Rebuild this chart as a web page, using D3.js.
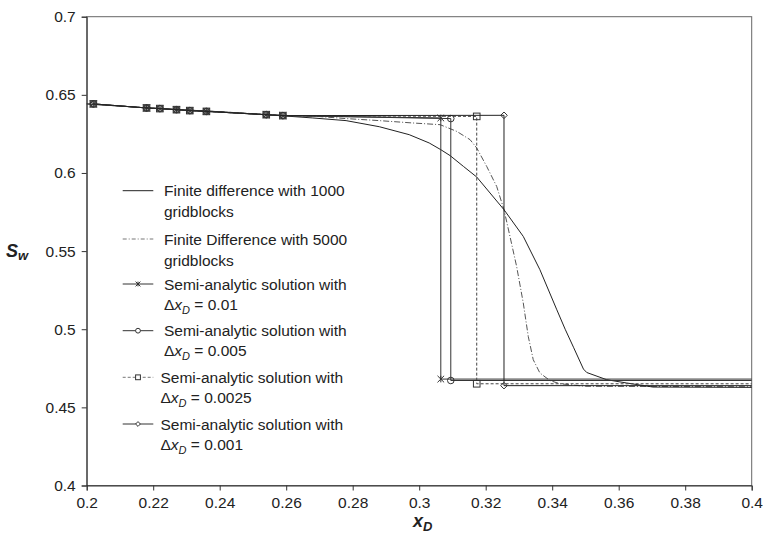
<!DOCTYPE html>
<html>
<head>
<meta charset="utf-8">
<script src="https://cdn.jsdelivr.net/npm/d3@7"></script>
<style>
  html, body { margin: 0; padding: 0; background: #fff; }
  svg { display: block; }
  text { font-family: "Liberation Sans", Arial, sans-serif; fill: #222; }
</style>
</head>
<body>
<svg id="chart" width="763" height="543"></svg>
<script>
// ---- data ----
const xTicks = [0.2, 0.22, 0.24, 0.26, 0.28, 0.3, 0.32, 0.34, 0.36, 0.38, 0.4];
const yTicks = [0.4, 0.45, 0.5, 0.55, 0.6, 0.65, 0.7];

// shared early points of the semi-analytic solutions
const semiX = [0.202, 0.218, 0.222, 0.227, 0.231, 0.236, 0.254, 0.259];
const semiY = [0.6442, 0.6416, 0.6412, 0.6405, 0.6399, 0.6394, 0.6373, 0.6367];

// shock front for each Δx: [x, upper Sw, lower Sw]
const shock001   = [0.3065, 0.6352, 0.4681];
const shock0005  = [0.3095, 0.6348, 0.4672];
const shock00025 = [0.3173, 0.6362, 0.4651];
const shock0001  = [0.3255, 0.6369, 0.4639];

const fd1000X = [0.2, 0.22, 0.24, 0.26, 0.268, 0.278, 0.288, 0.297, 0.303, 0.3065, 0.3093, 0.3133, 0.3173, 0.3213, 0.3255, 0.3313, 0.3363, 0.3414, 0.3439, 0.3464, 0.3494, 0.3504, 0.3564, 0.3624, 0.3703, 0.4];
const fd1000Y = [0.6442, 0.6414, 0.6392, 0.6364, 0.6352, 0.6335, 0.6296, 0.6245, 0.6192, 0.6149, 0.6111, 0.6042, 0.5974, 0.5872, 0.5765, 0.5594, 0.5381, 0.5124, 0.5000, 0.4885, 0.4745, 0.4723, 0.4677, 0.4656, 0.4630, 0.4628];

const fd5000X = [0.2, 0.22, 0.24, 0.26, 0.268, 0.278, 0.288, 0.298, 0.3063, 0.3113, 0.3153, 0.3173, 0.3203, 0.3233, 0.3255, 0.3273, 0.3293, 0.3313, 0.3328, 0.3343, 0.3363, 0.3393, 0.3423, 0.35, 0.4];
const fd5000Y = [0.6442, 0.6414, 0.6392, 0.6367, 0.6364, 0.6348, 0.6335, 0.6320, 0.6309, 0.6266, 0.6213, 0.6160, 0.6042, 0.5914, 0.5765, 0.5594, 0.5402, 0.5168, 0.4954, 0.4805, 0.4720, 0.4672, 0.4651, 0.4635, 0.4632];

const legendLabels1 = ["Finite difference with 1000", "Finite Difference with 5000"];
const legendDx = ["0.01", "0.005", "0.0025", "0.001"];

// ---- layout ----
const svg = d3.select("#chart");
const pLeft = 86.7, pRight = 751.7, pTop = 16.7, pBottom = 485.5;
const x = d3.scaleLinear().domain([0.2, 0.4]).range([pLeft, pRight]);
const y = d3.scaleLinear().domain([0.4, 0.7]).range([pBottom, pTop]);

// frame
svg.append("rect").attr("x", pLeft).attr("y", pTop)
  .attr("width", pRight - pLeft).attr("height", pBottom - pTop)
  .attr("fill", "none").attr("stroke", "#666").attr("stroke-width", 1);

// axes
const xAxis = svg.append("g").attr("transform", `translate(0,${pBottom})`)
  .call(d3.axisBottom(x).tickValues(xTicks).tickSize(5).tickPadding(6)
        .tickFormat(d => String(+d.toFixed(2))));
const yAxis = svg.append("g").attr("transform", `translate(${pLeft},0)`)
  .call(d3.axisLeft(y).tickValues(yTicks).tickSize(5).tickPadding(6)
        .tickFormat(d => String(+d.toFixed(2))));
[xAxis, yAxis].forEach(g => {
  g.select(".domain").attr("stroke", "#333");
  g.selectAll(".tick line").attr("stroke", "#333");
  g.selectAll(".tick text").attr("font-size", 15.5)
    .attr("font-family", "'Liberation Sans', Arial, sans-serif").attr("fill", "#222");
});

// axis titles
svg.append("text").attr("x", 6).attr("y", 257)
  .attr("font-size", 18).attr("font-weight", "bold").attr("font-style", "italic")
  .call(t => {
    t.append("tspan").text("S");
    t.append("tspan").attr("font-size", 13).attr("dy", 3).text("w");
  });
svg.append("text").attr("x", 413).attr("y", 527)
  .attr("font-size", 18).attr("font-weight", "bold").attr("font-style", "italic")
  .call(t => {
    t.append("tspan").text("x");
    t.append("tspan").attr("font-size", 13).attr("dy", 4).text("D");
  });

// ---- series ----
const line = d3.line().x(d => x(d[0])).y(d => y(d[1]));
const zip = (xs, ys) => xs.map((v, i) => [v, ys[i]]);

const plot = svg.append("g");

function semiPoints(sh) {
  const pts = zip(semiX, semiY);
  pts.push([sh[0], sh[1]], [sh[0], sh[2]], [0.4, sh[2]]);
  return pts;
}

function marker(g, type, cx, cy, s, fill) {
  if (type === "asterisk") {
    g.append("path").attr("d",
      `M${cx - s},${cy - s}L${cx + s},${cy + s}M${cx - s},${cy + s}L${cx + s},${cy - s}M${cx},${cy - s}L${cx},${cy + s}`)
      .attr("stroke", "#333").attr("stroke-width", 1).attr("fill", "none");
  } else if (type === "circle") {
    g.append("circle").attr("cx", cx).attr("cy", cy).attr("r", s)
      .attr("stroke", "#333").attr("stroke-width", 1).attr("fill", fill);
  } else if (type === "square") {
    g.append("rect").attr("x", cx - s).attr("y", cy - s).attr("width", 2 * s).attr("height", 2 * s)
      .attr("stroke", "#333").attr("stroke-width", 1).attr("fill", fill);
  } else if (type === "diamond") {
    g.append("path").attr("d", `M${cx},${cy - s}L${cx + s},${cy}L${cx},${cy + s}L${cx - s},${cy}Z`)
      .attr("stroke", "#333").attr("stroke-width", 1).attr("fill", fill);
  }
}

const semiSeries = [
  { shock: shock001,   type: "asterisk", color: "#333", dash: null },
  { shock: shock0005,  type: "circle",   color: "#333", dash: null },
  { shock: shock00025, type: "square",   color: "#444", dash: "3,2" },
  { shock: shock0001,  type: "diamond",  color: "#222", dash: null }
];

// finite difference curves
plot.append("path").datum(zip(fd5000X, fd5000Y)).attr("d", line)
  .attr("fill", "none").attr("stroke", "#555").attr("stroke-width", 1)
  .attr("stroke-dasharray", "6,2,1,2");
plot.append("path").datum(zip(fd1000X, fd1000Y)).attr("d", line)
  .attr("fill", "none").attr("stroke", "#222").attr("stroke-width", 1);

semiSeries.forEach(s => {
  const pts = semiPoints(s.shock);
  plot.append("path").datum(pts).attr("d", line)
    .attr("fill", "none").attr("stroke", s.color).attr("stroke-width", 1)
    .attr("stroke-dasharray", s.dash);
  const mg = plot.append("g");
  pts.slice(0, pts.length - 1).forEach(p => marker(mg, s.type, x(p[0]), y(p[1]), 3.3, "none"));
});

// ---- legend ----
const lg = svg.append("g");
const lx1 = 122.7, lx2 = 153.3, tx = 164;
const fs = 15.5;

[[190.7, false], [239, true]].forEach((e, i) => {
  const yy = e[0];
  lg.append("line").attr("x1", lx1).attr("x2", lx2).attr("y1", yy).attr("y2", yy)
    .attr("stroke", e[1] ? "#777" : "#222").attr("stroke-width", 1)
    .attr("stroke-dasharray", e[1] ? "4,2,1,2" : null);
  lg.append("text").attr("x", tx).attr("y", yy + 5.5).attr("font-size", fs).text(legendLabels1[i]);
  lg.append("text").attr("x", tx).attr("y", yy + 26.5).attr("font-size", fs).text("gridblocks");
});

const semiLegendY = [284, 330.7, 377.3, 424];
semiSeries.forEach((s, i) => {
  const yy = semiLegendY[i];
  lg.append("line").attr("x1", lx1).attr("x2", lx2).attr("y1", yy).attr("y2", yy)
    .attr("stroke", s.dash ? "#777" : "#333").attr("stroke-width", 1)
    .attr("stroke-dasharray", s.dash);
  marker(lg.append("g"), s.type, (lx1 + lx2) / 2, yy, 2.4, "#fff");
  const tx2 = i >= 2 ? 160.5 : tx;
  lg.append("text").attr("x", tx2).attr("y", yy + 5.5).attr("font-size", fs).text("Semi-analytic solution with");
  lg.append("text").attr("x", tx2).attr("y", yy + 25.5).attr("font-size", fs)
    .call(t => {
      t.append("tspan").text("Δ");
      t.append("tspan").attr("font-style", "italic").text("x");
      t.append("tspan").attr("font-style", "italic").attr("font-size", 11).attr("dy", 4).text("D");
      t.append("tspan").attr("dy", -4).text(" = " + legendDx[i]);
    });
});
</script>
</body>
</html>
